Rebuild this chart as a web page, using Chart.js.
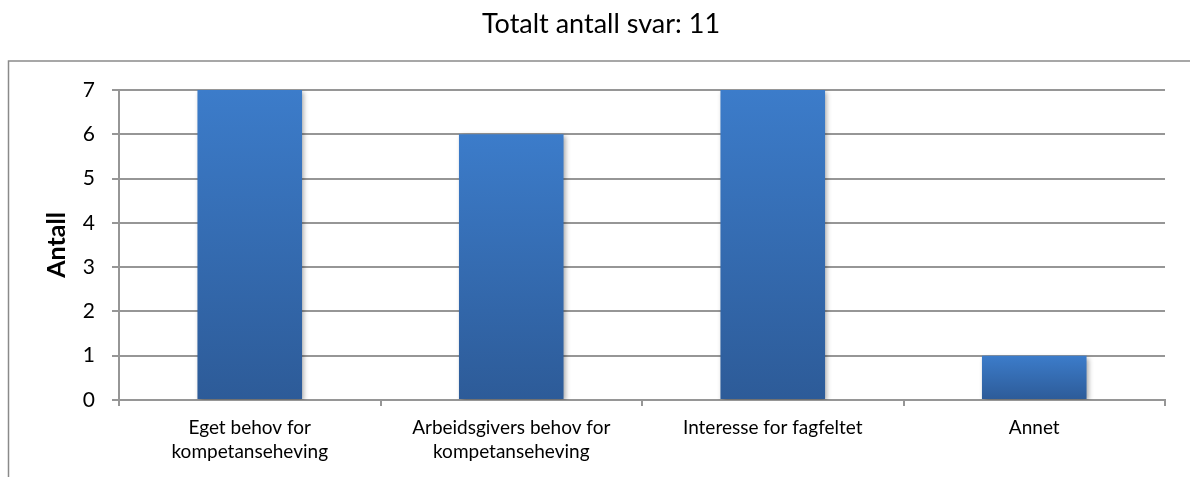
<!DOCTYPE html>
<html>
<head>
<meta charset="utf-8">
<script src="https://cdn.jsdelivr.net/npm/chart.js@4/dist/chart.umd.min.js"></script>
<style>
  html, body { margin: 0; padding: 0; background: #fff; }
  #wrap { width: 1190px; height: 477px; }
</style>
</head>
<body>
<div id="wrap"><canvas id="svarChart" width="1190" height="477"></canvas></div>
<script>
const chartTitle = 'Totalt antall svar: 11';
const yTitle = 'Antall';
const categories = [
  ['Eget behov for', 'kompetanseheving'],
  ['Arbeidsgivers behov for', 'kompetanseheving'],
  'Interesse for fagfeltet',
  'Annet'
];
const antall = [7, 6, 7, 1];
const yTicks = [0, 1, 2, 3, 4, 5, 6, 7];

const gridColor = '#969696';
const fontFamily = 'Lato, "Open Sans", sans-serif';

// outer frame like the office chart box
const framePlugin = {
  id: 'frame',
  beforeDraw(chart) {
    const ctx = chart.ctx;
    ctx.save();
    ctx.strokeStyle = '#8a8a8a';
    ctx.lineWidth = 1.5;
    ctx.strokeRect(8.5, 61, 1300, 600);
    ctx.restore();
  }
};

// soft shadow under the bars
const shadowPlugin = {
  id: 'barShadow',
  beforeDatasetsDraw(chart) {
    const ctx = chart.ctx;
    ctx.save();
    ctx.shadowColor = 'rgba(0,0,0,0.35)';
    ctx.shadowBlur = 5;
    ctx.shadowOffsetX = 2;
    ctx.shadowOffsetY = 2;
  },
  afterDatasetsDraw(chart) {
    chart.ctx.restore();
  }
};

function barGradient(context) {
  const chart = context.chart;
  if (!chart.chartArea || context.type !== 'data') return '#3a78c4';
  const y = chart.scales.y;
  const top = y.getPixelForValue(context.raw);
  const base = y.getPixelForValue(0);
  const g = chart.ctx.createLinearGradient(0, top, 0, base);
  g.addColorStop(0, '#3c7cca');
  g.addColorStop(1, '#2d5b98');
  return g;
}

const ctx = document.getElementById('svarChart').getContext('2d');
new Chart(ctx, {
  type: 'bar',
  data: {
    labels: categories,
    datasets: [{
      label: yTitle,
      data: antall,
      backgroundColor: barGradient,
      borderWidth: 0,
      barPercentage: 0.4,
      categoryPercentage: 1
    }]
  },
  options: {
    responsive: false,
    animation: false,
    layout: { padding: { left: 37, right: 25, top: 0, bottom: 0 } },
    plugins: {
      legend: { display: false },
      tooltip: { enabled: false },
      title: {
        display: true,
        text: chartTitle,
        color: '#000',
        font: { family: fontFamily, size: 27, weight: 'normal', lineHeight: 1.2 },
        padding: { top: 7.8, bottom: 49.8 }
      }
    },
    scales: {
      x: {
        grid: {
          display: true,
          drawOnChartArea: false,
          offset: true,
          tickLength: 6,
          color: gridColor,
          lineWidth: 2
        },
        border: { display: true, color: gridColor, width: 2 },
        ticks: {
          color: '#000',
          maxRotation: 0,
          autoSkip: false,
          padding: 10,
          font: { family: fontFamily, size: 19, lineHeight: 1.263 }
        },
        afterFit(scale) { scale.height = 77; }
      },
      y: {
        min: 0,
        max: 7,
        afterBuildTicks(scale) {
          scale.ticks = yTicks.map(v => ({ value: v }));
        },
        grid: {
          color: gridColor,
          lineWidth: 2,
          tickLength: 7
        },
        border: { display: true, color: gridColor, width: 2 },
        ticks: {
          color: '#000',
          padding: 17,
          font: { family: fontFamily, size: 21 }
        },
        title: {
          display: true,
          text: yTitle,
          color: '#000',
          font: { family: fontFamily, size: 25, weight: 'bold', lineHeight: 1.2 },
          padding: { top: 4.5, bottom: 0 }
        },
        afterFit(scale) { scale.width = 82; }
      }
    }
  },
  plugins: [framePlugin, shadowPlugin]
});
</script>
</body>
</html>
